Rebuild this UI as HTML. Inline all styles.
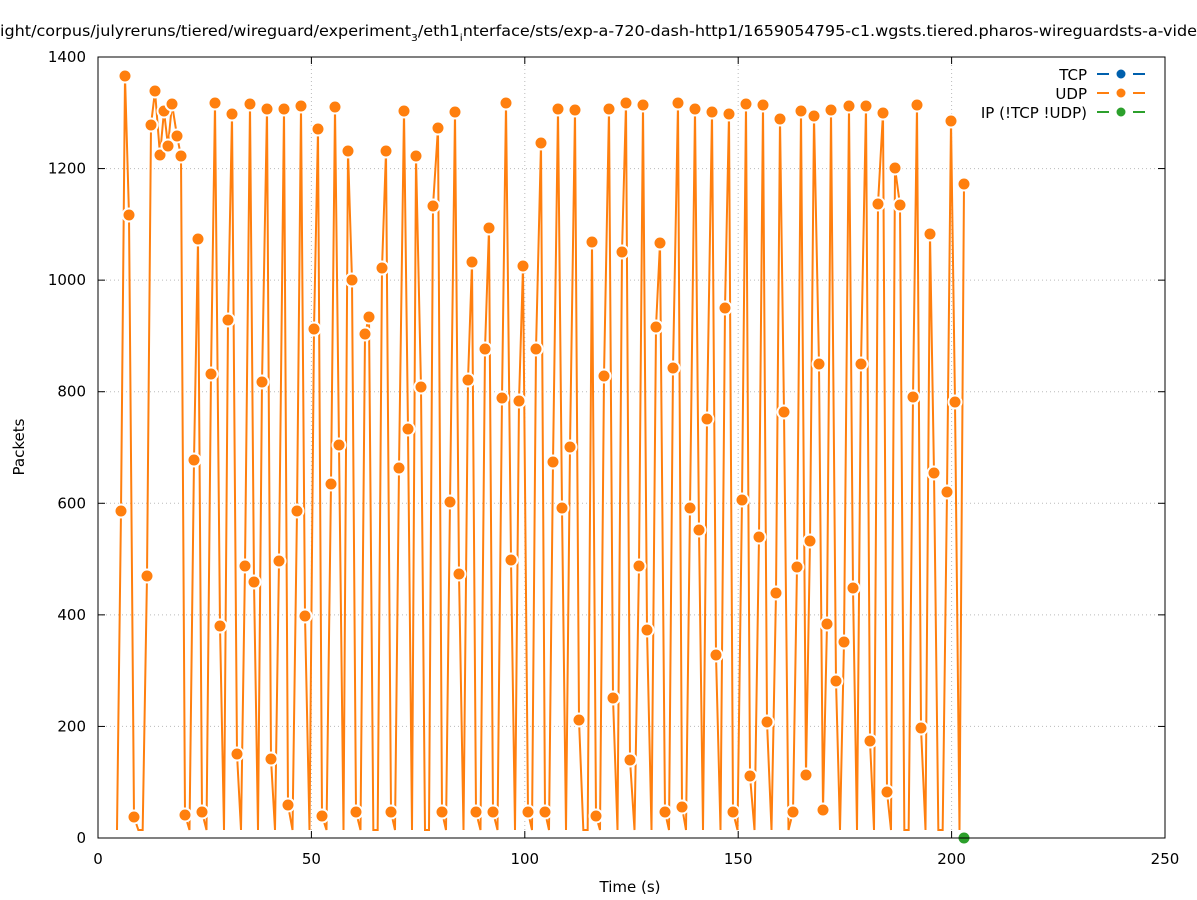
<!DOCTYPE html>
<html><head><meta charset="utf-8"><style>
body{margin:0;background:#fff}
svg{display:block;font-family:"DejaVu Sans","Liberation Sans",sans-serif}
</style></head><body>
<svg id="s" width="1197" height="900" xmlns="http://www.w3.org/2000/svg">
<rect width="1197" height="900" fill="#fff"/>
<text x="0" y="36" font-size="15" textLength="1197" lengthAdjust="spacingAndGlyphs">ight/corpus/julyreruns/tiered/wireguard/experiment<tspan font-size="10" dy="5">3</tspan><tspan dy="-5">/eth1</tspan><tspan font-size="10" dy="5">i</tspan><tspan dy="-5">nterface/sts/exp-a-720-dash-http1/1659054795-c1.wgsts.tiered.pharos-wireguardsts-a-vide</tspan></text>
<g id="grid" stroke="#bbb" stroke-dasharray="1,3" stroke-width="1"></g>
<g id="data"></g>
<rect x="98" y="57" width="1067" height="781" fill="none" stroke="#000" stroke-width="1"/>
<g id="ticks" font-size="15" fill="#000"></g>
<text x="630" y="892" font-size="15" text-anchor="middle">Time (s)</text>
<text transform="translate(24,447) rotate(-90)" font-size="15" text-anchor="middle">Packets</text>
<g font-size="15" text-anchor="end">
<text x="1087" y="80">TCP</text>
<text x="1087" y="99">UDP</text>
<text x="1087" y="118">IP (!TCP  !UDP)</text>
</g>
<g stroke-width="2">
<line x1="1097" y1="74" x2="1145" y2="74" stroke="#0060ad" stroke-dasharray="12,24"/>
<circle cx="1121" cy="74" r="5.5" fill="#0060ad" stroke="#fff" stroke-width="2"/>
<line x1="1097" y1="93" x2="1145" y2="93" stroke="#ff7f0e" stroke-dasharray="12,24"/>
<circle cx="1121" cy="93" r="5.5" fill="#ff7f0e" stroke="#fff" stroke-width="2"/>
<line x1="1097" y1="112" x2="1145" y2="112" stroke="#2ca02c" stroke-dasharray="12,24"/>
<circle cx="1121" cy="112" r="5.5" fill="#2ca02c" stroke="#fff" stroke-width="2"/>
</g>
</svg>
<script>
var NS="http://www.w3.org/2000/svg";
function el(p,t,a){var e=document.createElementNS(NS,t);for(var k in a)e.setAttribute(k,a[k]);p.appendChild(e);return e;}
var g=document.getElementById('grid'),tk=document.getElementById('ticks'),d=document.getElementById('data');
for(var i=0;i<=7;i++){var y=838-i*200*781/1400;
 if(i>0&&i<7)el(g,'line',{x1:98,x2:1165,y1:y,y2:y});
 el(tk,'line',{x1:98,x2:105,y1:y,y2:y,stroke:'#000'});el(tk,'line',{x1:1158,x2:1165,y1:y,y2:y,stroke:'#000'});
 var t=el(tk,'text',{x:86,y:y+5,'text-anchor':'end'});t.textContent=i*200;}
for(var i=0;i<=5;i++){var x=98+i*50*1067/250;
 if(i>0&&i<5)el(g,'line',{x1:x,x2:x,y1:57,y2:838});
 el(tk,'line',{x1:x,x2:x,y1:838,y2:831,stroke:'#000'});el(tk,'line',{x1:x,x2:x,y1:57,y2:64,stroke:'#000'});
 var t=el(tk,'text',{x:x,y:864,'text-anchor':'middle'});t.textContent=i*50;}
var P=[[121,511],[125,76],[129,215],[134,817],[147,576],[151,125],[155,91],[160,155],[164,111],[168,146],[172,104],[177,136],[181,156],[185,815],[194,460],[198,239],[202,812],[211,374],[215,103],[220,626],[228,320],[232,114],[237,754],[245,566],[250,104],[254,582],[262,382],[267,109],[271,759],[279,561],[284,109],[288,805],[297,511],[301,106],[305,616],[314,329],[318,129],[322,816],[331,484],[335,107],[339,445],[348,151],[352,280],[356,812],[365,334],[369,317],[382,268],[386,151],[391,812],[399,468],[404,111],[408,429],[416,156],[421,387],[433,206],[438,128],[442,812],[450,502],[455,112],[459,574],[468,380],[472,262],[476,812],[485,349],[489,228],[493,812],[502,398],[506,103],[511,560],[519,401],[523,266],[528,812],[536,349],[541,143],[545,812],[553,462],[558,109],[562,508],[570,447],[575,110],[579,720],[592,242],[596,816],[604,376],[609,109],[613,698],[622,252],[626,103],[630,760],[639,566],[643,105],[647,630],[656,327],[660,243],[665,812],[673,368],[678,103],[682,807],[690,508],[695,109],[699,530],[707,419],[712,112],[716,655],[725,308],[729,114],[733,812],[742,500],[746,104],[750,776],[759,537],[763,105],[767,722],[776,593],[780,119],[784,412],[793,812],[797,567],[801,111],[806,775],[810,541],[814,116],[819,364],[823,810],[827,624],[831,110],[836,681],[844,642],[849,106],[853,588],[861,364],[866,106],[870,741],[878,204],[883,113],[887,792],[895,168],[900,205],[913,397],[917,105],[921,728],[930,234],[934,473],[947,492],[951,121],[955,402],[964,184]];
var S=4.268,Z=830,pts=[[117,Z]];
for(var i=0;i<P.length;i++){
 if(i>0){var n=Math.round((P[i][0]-P[i-1][0])/S);for(var k=1;k<n;k++)pts.push([P[i-1][0]+(P[i][0]-P[i-1][0])*k/n,Z]);}
 pts.push(P[i]);}
el(d,'polyline',{points:pts.map(function(p){return p.join(',')}).join(' '),fill:'none',stroke:'#ff7f0e','stroke-width':2});
P.forEach(function(p){el(d,'circle',{cx:p[0],cy:p[1],r:6.5,fill:'#ff7f0e',stroke:'#fff','stroke-width':2});});
el(d,'circle',{cx:964,cy:838,r:5.5,fill:'#2ca02c'});
</script>
</body></html>
